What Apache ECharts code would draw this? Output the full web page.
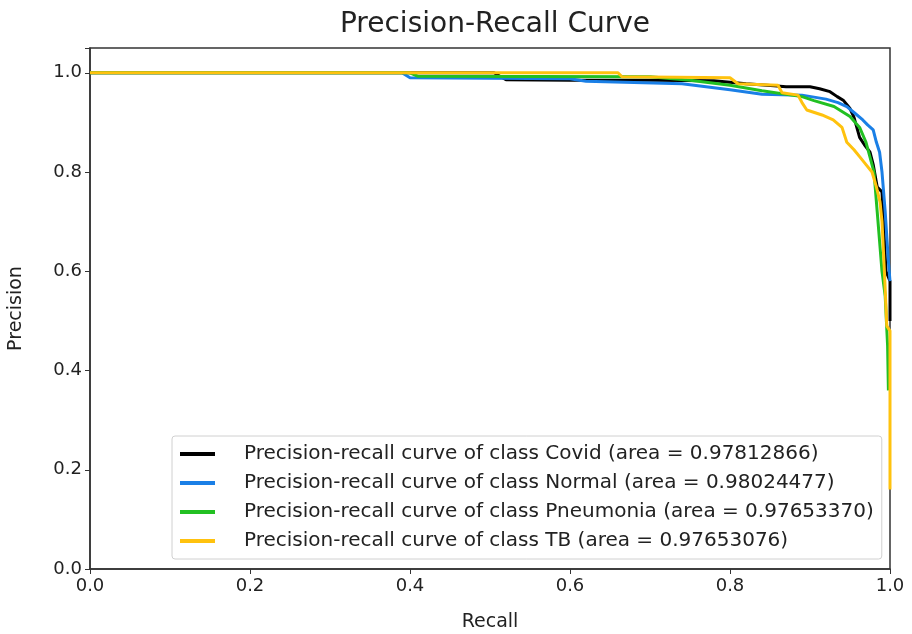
<!DOCTYPE html>
<html>
<head>
<meta charset="utf-8">
<script src="https://cdn.jsdelivr.net/npm/echarts@6/dist/echarts.min.js"></script>
<style>
  html, body { margin: 0; padding: 0; background: #fff; }
  #chart { width: 912px; height: 634px; }
</style>
</head>
<body>
<div id="chart"></div>
<script>
// class names and areas as printed in the legend
const classNames = ["Covid", "Normal", "Pneumonia", "TB"];
const classAreas = ["0.97812866", "0.98024477", "0.97653370", "0.97653076"];
const classColors = ["#000000", "#1a7fe6", "#22c022", "#ffc20e"];

// recall / precision
const covidRecall = [0.0, 0.505, 0.52, 0.60, 0.70, 0.78, 0.82, 0.855, 0.87, 0.90, 0.912, 0.925, 0.934, 0.942, 0.95, 0.955, 0.962, 0.968, 0.975, 0.979, 0.984, 0.99, 0.995, 1.0, 1.0];
const covidPrecision = [1.0, 1.0, 0.986, 0.985, 0.985, 0.984, 0.978, 0.974, 0.972, 0.972, 0.968, 0.962, 0.952, 0.944, 0.928, 0.91, 0.87, 0.855, 0.84, 0.815, 0.77, 0.76, 0.60, 0.58, 0.50];

const normalRecall = [0.0, 0.39, 0.40, 0.60, 0.62, 0.74, 0.76, 0.80, 0.84, 0.89, 0.92, 0.935, 0.946, 0.955, 0.966, 0.972, 0.979, 0.983, 0.987, 0.99, 0.994, 0.998, 1.0];
const normalPrecision = [1.0, 1.0, 0.99, 0.988, 0.983, 0.978, 0.974, 0.966, 0.957, 0.955, 0.947, 0.94, 0.932, 0.92, 0.905, 0.895, 0.885, 0.86, 0.84, 0.80, 0.72, 0.62, 0.58];

const pneumoniaRecall = [0.0, 0.40, 0.41, 0.70, 0.75, 0.80, 0.84, 0.89, 0.905, 0.93, 0.95, 0.962, 0.97, 0.975, 0.98, 0.984, 0.99, 0.994, 0.997, 0.998];
const pneumoniaPrecision = [1.0, 1.0, 0.993, 0.992, 0.985, 0.975, 0.964, 0.952, 0.944, 0.932, 0.912, 0.89, 0.86, 0.83, 0.80, 0.72, 0.60, 0.55, 0.45, 0.36];

const tbRecall = [0.0, 0.66, 0.665, 0.80, 0.81, 0.86, 0.865, 0.885, 0.89, 0.896, 0.915, 0.929, 0.94, 0.946, 0.955, 0.9625, 0.97, 0.9775, 0.983, 0.9875, 0.99, 0.993, 0.996, 1.0, 1.0];
const tbPrecision = [1.0, 1.0, 0.992, 0.99, 0.978, 0.975, 0.96, 0.955, 0.94, 0.925, 0.915, 0.905, 0.89, 0.86, 0.845, 0.83, 0.815, 0.80, 0.77, 0.74, 0.70, 0.60, 0.49, 0.48, 0.16];

const recalls = [covidRecall, normalRecall, pneumoniaRecall, tbRecall];
const precisions = [covidPrecision, normalPrecision, pneumoniaPrecision, tbPrecision];

const font = "DejaVu Sans";

const series = classNames.map((c, i) => ({
  name: "Precision-recall curve of class " + c + " (area = " + classAreas[i] + ")",
  type: "line",
  data: recalls[i].map((r, j) => [r, precisions[i][j]]),
  showSymbol: false,
  lineStyle: { color: classColors[i], width: 3 },
  itemStyle: { color: classColors[i] },
  z: 2 + i,
}));

const chart = echarts.init(document.getElementById("chart"));
chart.setOption({
  animation: false,
  title: {
    text: "Precision-Recall Curve",
    left: 490, top: 6, textAlign: "center",
    textStyle: { fontFamily: font, fontSize: 28, fontWeight: "normal", color: "#222" },
  },
  grid: {
    left: 90, right: 22, top: 48, bottom: 65,
    outerBoundsMode: "none",
    show: true, borderColor: "#333", borderWidth: 1.5,
  },
  legend: {
    orient: "vertical",
    left: 172, top: 436,
    padding: [8, 8, 8, 8],
    itemGap: 9,
    itemWidth: 35, itemHeight: 4,
    icon: "rect",
    backgroundColor: "#fff",
    borderColor: "#d0d0d0", borderWidth: 1, borderRadius: 3,
    textStyle: { fontFamily: font, fontSize: 20, color: "#222", padding: [0, 0, 0, 24], lineHeight: 20 },
  },
  xAxis: {
    type: "value", min: 0, max: 1, interval: 0.2,
    name: "Recall", nameLocation: "middle", nameGap: 44,
    nameTextStyle: { fontFamily: font, fontSize: 19, color: "#222" },
    axisLine: { show: true, lineStyle: { color: "#333", width: 1.5 } },
    axisTick: { show: true, length: 5, lineStyle: { color: "#333" } },
    axisLabel: { fontFamily: font, fontSize: 18, color: "#222", margin: 8, formatter: (v) => v.toFixed(1) },
    splitLine: { show: false },
  },
  yAxis: {
    type: "value", min: 0, max: 1.05, interval: 0.2,
    name: "Precision", nameLocation: "middle", nameGap: 64,
    nameTextStyle: { fontFamily: font, fontSize: 19, color: "#222" },
    axisLine: { show: true, lineStyle: { color: "#333", width: 1.5 } },
    axisTick: { show: true, length: 5, lineStyle: { color: "#333" } },
    axisLabel: {
      fontFamily: font, fontSize: 18, color: "#222", margin: 8,
      formatter: (v) => (v > 1.01 ? "" : v.toFixed(1)),
    },
    splitLine: { show: false },
  },
  series: series,
});
</script>
</body>
</html>
